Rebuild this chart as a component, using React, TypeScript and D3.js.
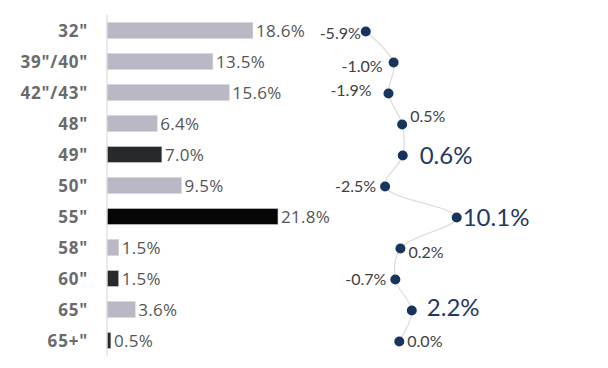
import React from "react";
import * as d3 from "d3";

const categories = ['32"', '39"/40"', '42"/43"', '48"', '49"', '50"', '55"', '58"', '60"', '65"', '65+"'];
const shares = [18.6, 13.5, 15.6, 6.4, 7.0, 9.5, 21.8, 1.5, 1.5, 3.6, 0.5];
const changes = [-5.9, -1.0, -1.9, 0.5, 0.6, -2.5, 10.1, 0.2, -0.7, 2.2, 0.0];
const highlightChange = [false, false, false, false, true, false, true, false, false, true, false];
const barColors = ["#b9b8c4", "#b9b8c4", "#b9b8c4", "#b9b8c4", "#28292d", "#b9b8c4", "#050505", "#b9b8c4", "#28292d", "#b9b8c4", "#28292d"];
const labelDx = [-5, -11, -17, 8, 17, -9, 6, 8, -9, 15, 8];
const labelDy = [2, 4, -3, -8, 0, 0, 0, 4, 0, -3, 0];

const W = 608;
const H = 368;

export default function App() {
  const y = d3.scaleBand<string>().domain(categories).range([15, 356]).paddingInner(0.48).paddingOuter(0.24);
  const xBar = d3.scaleLinear().domain([0, 21.8]).range([107, 278]);
  const xDot = d3.scaleLinear().domain([0, 10.1]).range([399.3, 456.7]);
  const cy = (c: string) => (y(c) as number) + y.bandwidth() / 2;

  const pts: [number, number][] = changes.map((v, i) => [xDot(v), cy(categories[i]) + 1]);
  const line = d3.line().curve(d3.curveCatmullRom.alpha(0.5))(pts) || "";

  return (
    <svg width={W} height={H} style={{ position: "absolute", left: 0, top: 0, background: "#fff" }}>
      {categories.map((c, i) => (
        <g key={c}>
          <text x={88} y={cy(c)} dy="0.36em" textAnchor="end" fontFamily="'Open Sans', sans-serif" fontWeight={700} fontSize={17} letterSpacing={0.8} fill="#6b6b6b">
            {c}
          </text>
          <rect x={xBar(0)} y={y(c)} width={xBar(shares[i]) - xBar(0)} height={y.bandwidth()} fill={barColors[i]} stroke="#d8d8de" strokeWidth={0.6} />
          <text x={xBar(shares[i]) + 3} y={cy(c)} dy="0.36em" fontFamily="'Open Sans', sans-serif" fontSize={17} letterSpacing={0.3} fill="#555555">
            {shares[i].toFixed(1)}%
          </text>
        </g>
      ))}
      <line x1={107} x2={107} y1={15} y2={356} stroke="#dadada" strokeWidth={1.2} />
      <path d={line} fill="none" stroke="#d8d8d8" strokeWidth={1.1} />
      {changes.map((v, i) => {
        const [px, py] = pts[i];
        const big = highlightChange[i];
        const neg = v < 0;
        return (
          <g key={i}>
            <circle cx={px} cy={py} r={5} fill="#17355c" />
            <text
              x={px + labelDx[i]}
              y={py + labelDy[i]}
              dy="0.36em"
              textAnchor={neg ? "end" : "start"}
              fontFamily="Lato, sans-serif"
              fontSize={big ? 24 : 16}
              fill={big ? "#1f3a5f" : "#404040"}
            >
              {v.toFixed(1)}%
            </text>
          </g>
        );
      })}
    </svg>
  );
}
